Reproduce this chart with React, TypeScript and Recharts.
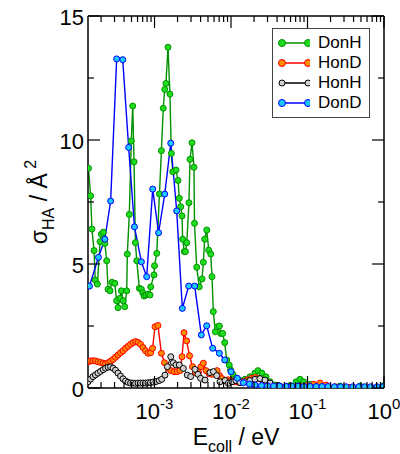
import { LineChart, Line, XAxis, YAxis, Legend } from "recharts";

const FONT = "'Liberation Sans', Arial, Helvetica, sans-serif";

// collision energies (eV) and cross sections (Å^2)
const donHE = [
  1.37e-4, 1.46e-4, 1.52e-4, 1.62e-4, 1.68e-4, 1.79e-4, 1.94e-4, 2.02e-4, 2.14e-4, 2.24e-4,
  2.37e-4, 2.47e-4, 2.62e-4, 2.78e-4, 3.02e-4, 3.2e-4, 3.33e-4, 3.54e-4, 3.68e-4, 3.9e-4,
  4.08e-4, 4.33e-4, 4.41e-4, 4.68e-4, 4.97e-4, 5.19e-4, 5.4e-4, 5.62e-4, 5.86e-4, 6.34e-4,
  6.73e-4, 7.02e-4, 7.29e-4, 7.74e-4, 8.22e-4, 8.73e-4, 8.92e-4, 9.85e-4, 1.0e-3, 1.07e-3,
  1.16e-3, 1.23e-3, 1.3e-3, 1.36e-3, 1.41e-3, 1.5e-3, 1.59e-3, 1.66e-3, 1.73e-3, 1.91e-3,
  2.03e-3, 2.11e-3, 2.2e-3, 2.29e-3, 2.33e-3, 2.45e-3, 2.54e-3, 2.64e-3, 2.82e-3, 2.91e-3,
  3.09e-3, 3.28e-3, 3.33e-3, 3.56e-3, 3.84e-3, 4.18e-3, 4.35e-3, 4.53e-3, 4.82e-3, 5.11e-3,
  5.43e-3, 5.64e-3, 5.87e-3, 6.24e-3, 6.63e-3, 7.04e-3, 7.33e-3, 7.79e-3, 8.27e-3, 8.78e-3,
  9.49e-3, 9.86e-3, 1.06e-2, 1.16e-2, 1.31e-2, 1.52e-2, 1.77e-2, 2.06e-2, 2.25e-2, 2.53e-2,
  2.87e-2, 3.24e-2, 3.76e-2, 4.37e-2, 5.9e-2, 7.1e-2, 7.98e-2, 8.9e-2, 0.108, 0.146,
  0.266, 0.486, 1.0,
];
const donHS = [
  8.86, 7.75, 6.41, 5.54, 4.35, 4.19, 5.9, 6.2, 6.28, 5.83,
  5.13, 3.98, 3.92, 4.26, 4.22, 3.52, 3.24, 3.62, 3.92, 3.52,
  3.28, 3.92, 5.4, 7.0, 9.96, 11.37, 9.12, 5.86, 5.13, 4.02,
  3.98, 3.84, 3.71, 3.75, 3.79, 3.75, 4.08, 4.56, 4.93, 5.43,
  7.82, 9.57, 11.28, 12.04, 12.28, 13.74, 11.85, 9.46, 8.72, 8.79,
  8.37, 7.65, 7.31, 6.94, 6.0, 5.5, 5.5, 5.86, 7.47, 9.22,
  9.89, 8.9, 6.64, 4.87, 4.08, 4.4, 5.07, 6.0, 6.37, 5.56,
  5.4, 4.49, 3.08, 2.27, 2.47, 2.5, 2.2, 2.2, 1.83, 1.13,
  0.92, 0.73, 0.55, 0.4, 0.3, 0.35, 0.45, 0.6, 0.7, 0.6,
  0.45, 0.25, 0.12, 0.08, 0.1, 0.25, 0.35, 0.25, 0.15, 0.1,
  0.08, 0.08, 0.1,
];

const honDE = [
  1.35e-4, 1.46e-4, 1.57e-4, 1.69e-4, 1.82e-4, 1.97e-4, 2.13e-4, 2.29e-4, 2.47e-4, 2.66e-4,
  2.87e-4, 3.09e-4, 3.33e-4, 3.59e-4, 3.87e-4, 4.18e-4, 4.51e-4, 4.86e-4, 5.24e-4, 5.65e-4,
  6.09e-4, 6.56e-4, 7.08e-4, 7.63e-4, 8.22e-4, 8.87e-4, 9.42e-4, 1.015e-3, 1.11e-3, 1.23e-3,
  1.35e-3, 1.5e-3, 1.64e-3, 1.8e-3, 1.97e-3, 2.15e-3, 2.29e-3, 2.43e-3, 2.63e-3, 2.87e-3,
  3.14e-3, 3.44e-3, 3.76e-3, 4.06e-3, 4.35e-3, 4.71e-3, 5.16e-3, 5.64e-3, 6.18e-3, 6.56e-3,
  7.08e-3, 7.62e-3, 8.35e-3, 9.14e-3, 1.0e-2, 1.13e-2, 1.27e-2, 1.43e-2, 1.62e-2, 1.83e-2,
  2.06e-2, 2.32e-2, 2.61e-2, 2.95e-2, 3.43e-2, 4.37e-2, 5.9e-2, 7.98e-2, 0.1, 0.121,
  0.146, 0.175, 0.23, 0.359, 0.56, 1.0,
];
const honDS = [
  1.05, 1.09, 1.1, 1.09, 1.06, 1.03, 1.0, 0.98, 1.02, 1.08,
  1.15, 1.24, 1.33, 1.42, 1.5, 1.6, 1.68, 1.76, 1.83, 1.87,
  1.84, 1.76, 1.63, 1.5, 1.4, 1.42, 1.6, 2.47, 2.52, 1.4,
  1.02, 0.8, 0.7, 0.66, 0.66, 0.7, 1.26, 2.23, 1.9, 1.3,
  0.86, 0.62, 0.62, 0.86, 1.0, 0.7, 0.58, 0.55, 0.62, 0.7,
  0.5, 0.38, 0.3, 0.33, 0.3, 0.25, 0.22, 0.25, 0.32, 0.38,
  0.42, 0.38, 0.3, 0.2, 0.1, 0.05, 0.04, 0.06, 0.1, 0.15,
  0.2, 0.12, 0.05, 0.03, 0.03, 0.03,
];

const honHE = [
  1.35e-4, 1.46e-4, 1.57e-4, 1.69e-4, 1.82e-4, 1.97e-4, 2.13e-4, 2.29e-4, 2.47e-4, 2.66e-4,
  2.87e-4, 3.09e-4, 3.33e-4, 3.59e-4, 3.87e-4, 4.18e-4, 4.51e-4, 4.86e-4, 5.24e-4, 5.65e-4,
  6.09e-4, 6.56e-4, 7.08e-4, 7.63e-4, 8.22e-4, 8.87e-4, 9.56e-4, 1.046e-3, 1.15e-3, 1.24e-3,
  1.37e-3, 1.47e-3, 1.63e-3, 1.76e-3, 1.91e-3, 2.11e-3, 2.38e-3, 2.68e-3, 2.97e-3, 3.38e-3,
  3.7e-3, 4.01e-3, 4.57e-3, 5.31e-3, 5.88e-3, 6.5e-3, 7.18e-3, 8.35e-3, 9.23e-3, 1.03e-2,
  1.16e-2, 1.31e-2, 1.52e-2, 1.77e-2, 2.06e-2, 2.39e-2, 2.78e-2, 3.24e-2, 4.11e-2, 5.9e-2,
  0.108, 0.266, 1.0,
];
const honHS = [
  0.25, 0.36, 0.46, 0.53, 0.6, 0.67, 0.74, 0.8, 0.84, 0.85,
  0.8, 0.72, 0.6, 0.48, 0.37, 0.28, 0.23, 0.2, 0.2, 0.19,
  0.2, 0.2, 0.2, 0.2, 0.21, 0.22, 0.24, 0.26, 0.3, 0.35,
  0.52, 0.86, 1.26, 1.02, 0.93, 0.93, 0.79, 0.52, 0.46, 0.75,
  0.55, 0.39, 0.32, 0.62, 0.66, 0.5, 0.25, 0.3, 0.19, 0.25,
  0.3, 0.22, 0.25, 0.3, 0.35, 0.38, 0.32, 0.2, 0.1, 0.05,
  0.05, 0.03, 0.03,
];

const donDE = [
  1.41e-4, 1.85e-4, 2.24e-4, 2.67e-4, 3.2e-4, 3.84e-4, 4.59e-4, 5.47e-4, 6.73e-4, 7.9e-4,
  9.47e-4, 1.13e-3, 1.36e-3, 1.63e-3, 1.95e-3, 2.31e-3, 2.8e-3, 3.35e-3, 4.09e-3, 4.81e-3,
  5.76e-3, 7.04e-3, 8.27e-3, 1.0e-2, 1.21e-2, 1.45e-2, 1.74e-2, 2.06e-2, 2.5e-2, 3.0e-2,
  3.6e-2, 4.3e-2, 5.2e-2, 6.2e-2, 7.5e-2, 9.0e-2, 0.108, 0.13, 0.155, 0.186,
  0.224, 0.27, 0.32, 0.39, 0.47, 0.56, 0.67, 0.81, 0.97,
];
const donDS = [
  4.11, 5.27, 6.0, 7.54, 13.27, 13.24, 9.7, 6.5, 5.09, 4.49,
  8.02, 6.26, 7.82, 9.87, 7.14, 3.21, 4.11, 4.11, 2.14, 2.51,
  1.6, 1.4, 1.13, 0.66, 0.39, 0.21, 0.16, 0.12, 0.1, 0.09,
  0.08, 0.08, 0.07, 0.07, 0.07, 0.06, 0.06, 0.06, 0.06, 0.06,
  0.05, 0.05, 0.05, 0.05, 0.05, 0.05, 0.05, 0.05, 0.05,
];

const xTicks = [
  2e-4, 3e-4, 4e-4, 5e-4, 6e-4, 7e-4, 8e-4, 9e-4,
  1e-3, 2e-3, 3e-3, 4e-3, 5e-3, 6e-3, 7e-3, 8e-3, 9e-3,
  1e-2, 2e-2, 3e-2, 4e-2, 5e-2, 6e-2, 7e-2, 8e-2, 9e-2,
  0.1, 0.2, 0.3, 0.4, 0.5, 0.6, 0.7, 0.8, 0.9, 1,
];
const yTicks = [0, 2.5, 5, 7.5, 10, 12.5, 15];

const toPoints = (e: number[], s: number[]) => e.map((v, i) => ({ e: v, s: s[i] }));

const series = [
  { name: "DonH", data: toPoints(donHE, donHS), line: "#009000", fill: "#1fdc1f", r: 3 },
  { name: "HonD", data: toPoints(honDE, honDS), line: "#ff0000", fill: "#ff8c00", r: 3 },
  { name: "HonH", data: toPoints(honHE, honHS), line: "#000000", fill: "#d0d0d0", r: 3 },
  { name: "DonD", data: toPoints(donDE, donDS), line: "#0000ff", fill: "#1ec8ff", r: 3 },
];

const isDecade = (v: number) => {
  const l = Math.log10(v);
  return Math.abs(l - Math.round(l)) < 1e-6;
};

function BottomTick({ x, y, payload }: any) {
  const major = isDecade(payload.value);
  return (
    <g>
      <line x1={x} x2={x} y1={y} y2={y - (major ? 12 : 6)} stroke="#000" strokeWidth={1.2} />
      {major && (
        <text x={x} y={y + 31} textAnchor="middle" fontFamily={FONT} fontSize={22} fill="#000">
          10
          <tspan dy={-10} fontSize={15}>
            {String(Math.round(Math.log10(payload.value)))}
          </tspan>
        </text>
      )}
    </g>
  );
}

function TopTick({ x, y, payload }: any) {
  const major = isDecade(payload.value);
  return <line x1={x} x2={x} y1={y} y2={y + (major ? 12 : 6)} stroke="#000" strokeWidth={1.2} />;
}

function LeftTick({ x, y, payload }: any) {
  const major = payload.value % 5 === 0;
  return (
    <g>
      <line x1={x} x2={x + (major ? 12 : 6)} y1={y} y2={y} stroke="#000" strokeWidth={1.2} />
      {major && (
        <text x={x - 4} y={y + 9} textAnchor="end" fontFamily={FONT} fontSize={22} fill="#000">
          {payload.value}
        </text>
      )}
    </g>
  );
}

function RightTick({ x, y, payload }: any) {
  const major = payload.value % 5 === 0;
  return <line x1={x} x2={x - (major ? 12 : 6)} y1={y} y2={y} stroke="#000" strokeWidth={1.2} />;
}

function XTitle({ viewBox }: any) {
  const cx = viewBox ? viewBox.x + viewBox.width / 2 : 236;
  return (
    <text x={cx} y={445} textAnchor="middle" fontFamily={FONT} fontSize={23} fill="#000">
      E
      <tspan dy={7} fontSize={16}>coll</tspan>
      <tspan dy={-7}> / eV</tspan>
    </text>
  );
}

function YTitle({ viewBox }: any) {
  const cx = 47;
  const cy = viewBox ? viewBox.y + viewBox.height / 2 : 202;
  return (
    <text
      x={cx}
      y={cy}
      transform={`rotate(-90 ${cx} ${cy})`}
      textAnchor="middle"
      fontFamily={FONT}
      fontSize={23}
      fill="#000"
    >
      σ
      <tspan dy={7} fontSize={16}>HA</tspan>
      <tspan dy={-7}> / Å</tspan>
      <tspan dy={-11} fontSize={16}> 2</tspan>
    </text>
  );
}

function LegendBox() {
  return (
    <div
      style={{
        border: "1px solid #444",
        background: "#fff",
        padding: "4px 8px 4px 5px",
        fontFamily: FONT,
        fontSize: 17,
        color: "#000",
      }}
    >
      {series.map((s) => (
        <div key={s.name} style={{ display: "flex", alignItems: "center", height: 20 }}>
          <svg width={32} height={12} style={{ display: "block" }}>
            <line x1={4} x2={30} y1={6} y2={6} stroke={s.line} strokeWidth={1.5} />
            <circle cx={4} cy={6} r={s.name === "HonH" ? 3 : 3.5} fill={s.fill} stroke={s.line} strokeWidth={1} />
            <circle cx={30} cy={6} r={s.name === "HonH" ? 3 : 3.5} fill={s.fill} stroke={s.line} strokeWidth={1} />
          </svg>
          <span style={{ marginLeft: 8, lineHeight: "20px" }}>{s.name}</span>
        </div>
      ))}
    </div>
  );
}

export default function App() {
  return (
    <div style={{ position: "absolute", left: 0, top: 0, width: 400, height: 454, background: "#fff" }}>
      <LineChart width={400} height={454} margin={{ top: 15, right: 15, bottom: 6, left: 8 }}>
        <XAxis
          xAxisId="bottom"
          dataKey="e"
          type="number"
          scale="log"
          domain={[1.35e-4, 1]}
          allowDataOverflow
          ticks={xTicks}
          interval={0}
          tick={<BottomTick />}
          tickLine={false}
          tickSize={0}
          tickMargin={0}
          height={60}
          axisLine={{ stroke: "#000", strokeWidth: 1.5 }}
          label={<XTitle />}
        />
        <XAxis
          xAxisId="top"
          orientation="top"
          dataKey="e"
          type="number"
          scale="log"
          domain={[1.35e-4, 1]}
          allowDataOverflow
          ticks={xTicks}
          interval={0}
          tick={<TopTick />}
          tickLine={false}
          tickSize={0}
          tickMargin={0}
          height={1}
          axisLine={{ stroke: "#000", strokeWidth: 1.5 }}
        />
        <YAxis
          yAxisId="left"
          type="number"
          domain={[0, 15]}
          allowDataOverflow
          ticks={yTicks}
          interval={0}
          tick={<LeftTick />}
          tickLine={false}
          tickSize={0}
          tickMargin={0}
          width={80}
          axisLine={{ stroke: "#000", strokeWidth: 1.5 }}
          label={<YTitle />}
        />
        <YAxis
          yAxisId="right"
          orientation="right"
          type="number"
          domain={[0, 15]}
          allowDataOverflow
          ticks={yTicks}
          interval={0}
          tick={<RightTick />}
          tickLine={false}
          tickSize={0}
          tickMargin={0}
          width={1}
          axisLine={{ stroke: "#000", strokeWidth: 1.5 }}
        />
        <Legend
          layout="vertical"
          align="center"
          verticalAlign="middle"
          content={<LegendBox />}
          wrapperStyle={{ left: 272, top: 28, width: "auto" }}
        />
        {series.map((s) => (
          <Line
            key={s.name}
            name={s.name}
            xAxisId="bottom"
            yAxisId="left"
            data={s.data}
            dataKey="s"
            type="linear"
            stroke={s.line}
            strokeWidth={s.name === "HonH" ? 1 : 1.4}
            dot={{ r: s.r, fill: s.fill, stroke: s.line, strokeWidth: 1 }}
            activeDot={false}
            isAnimationActive={false}
          />
        ))}
      </LineChart>
    </div>
  );
}
